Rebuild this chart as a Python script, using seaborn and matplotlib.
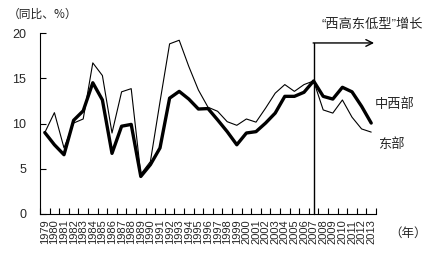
import matplotlib
matplotlib.use("Agg")
import matplotlib.pyplot as plt
import seaborn as sns
import pandas as pd
import numpy as np

years = list(range(1979, 2014))
central_west = [9.0, 7.65, 6.55, 10.35, 11.4, 14.5, 12.6, 6.7, 9.7, 9.9, 4.15, 5.45, 7.3,
                12.8, 13.55, 12.7, 11.6, 11.65, 10.4, 9.1, 7.65, 8.95, 9.1, 10.05, 11.15,
                13.0, 13.0, 13.45, 14.7, 13.0, 12.7, 14.0, 13.5, 11.9, 10.05]
east = [9.0, 11.2, 7.3, 10.05, 10.5, 16.7, 15.3, 8.95, 13.5, 13.85, 4.4, 5.8, 12.4,
        18.8, 19.2, 16.3, 13.7, 11.8, 11.35, 10.2, 9.8, 10.5, 10.15, 11.7, 13.35,
        14.3, 13.55, 14.3, 14.7, 11.5, 11.15, 12.6, 10.7, 9.4, 9.05]
series_names = ["中西部", "东部"]

sns.set_theme(style="white")
plt.rcParams['font.family'] = ['Liberation Sans', 'Noto Sans CJK SC', 'DejaVu Sans']

df = pd.DataFrame({
    "idx": list(range(len(years))) * 2,
    "value": central_west + east,
    "region": [series_names[0]] * len(years) + [series_names[1]] * len(years),
})

fig = plt.figure(figsize=(4.35, 2.54), dpi=100)
ax = fig.add_axes([40/435, 1-214/254, (376-40)/435, (214-33)/254])

sns.lineplot(data=df, x="idx", y="value", hue="region", size="region",
             sizes={series_names[0]: 2.4, series_names[1]: 0.8},
             palette={series_names[0]: "black", series_names[1]: "black"},
             legend=False, ax=ax)

ax.set_xlim(-0.5, len(years) - 0.5)
ax.set_ylim(0, 20)
ax.set_yticks([0, 5, 10, 15, 20])
ax.set_xticks(range(len(years)))
ax.set_xticklabels([str(y) for y in years], rotation=90, fontsize=8)
ax.set_xticks(np.arange(-0.5, len(years), 1), minor=True)
ax.tick_params(axis='x', which='major', length=0, pad=4)
ax.tick_params(axis='x', which='minor', direction='in', length=4, width=0.8, color='black', bottom=True)
ax.tick_params(axis='y', direction='in', length=4, width=0.8, color='black', left=True, labelsize=9, pad=10)
ax.set_xlabel("")
ax.set_ylabel("")
for s in ['top', 'right']:
    ax.spines[s].set_visible(False)
for s in ['left', 'bottom']:
    ax.spines[s].set_color('black')
    ax.spines[s].set_linewidth(0.8)

# 2007 marker line and arrow
i2007 = years.index(2007)
ax.plot([i2007, i2007], [0, 18.9], color='black', lw=1, clip_on=False)
ax.annotate('', xy=(34.3, 18.9), xytext=(i2007 - 0.05, 18.9),
            arrowprops=dict(arrowstyle='->', lw=1, color='black', shrinkA=0, shrinkB=0,
                            mutation_scale=12),
            annotation_clip=False)

fig.text(8/435, 1-14/254, "（同比、%）", fontsize=8.5, va='center', ha='left',
         family=['Noto Sans CJK SC', 'DejaVu Sans'])
fig.text(322/435, 1-25/254, "“西高东低型”增长", fontsize=9.5, va='center', ha='left')
fig.text(375/435, 1-105/254, series_names[0], fontsize=9.5, va='center', ha='left')
fig.text(378/435, 1-145/254, series_names[1], fontsize=9.5, va='center', ha='left')
fig.text(389/435, 1-234/254, "（年）", fontsize=9, va='center', ha='left')

fig.savefig("out.png", dpi=100)
